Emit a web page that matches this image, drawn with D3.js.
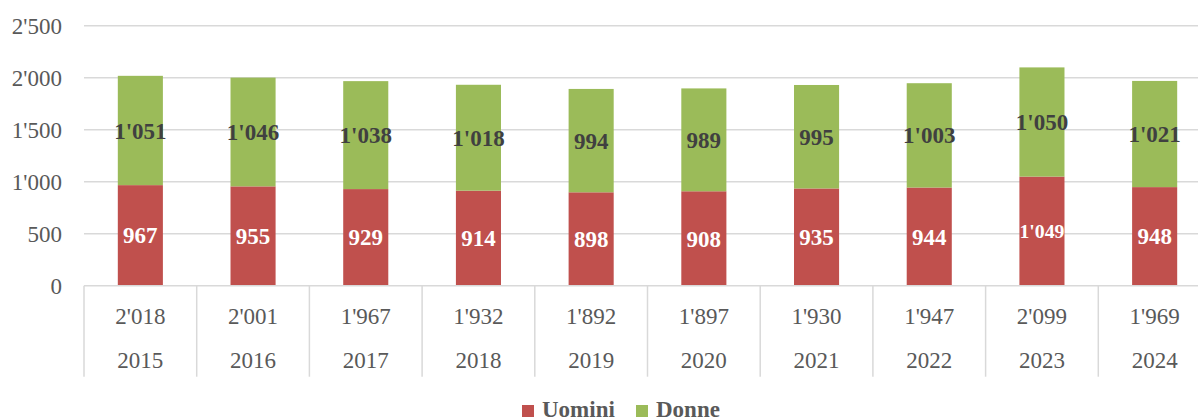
<!DOCTYPE html>
<html>
<head>
<meta charset="utf-8">
<script src="https://cdn.jsdelivr.net/npm/d3@7"></script>
<style>
  body { margin: 0; background: #fff; }
  svg { display: block; font-family: "Liberation Serif", "DejaVu Serif", serif; }
</style>
</head>
<body>
<svg id="chart" width="1198" height="419"></svg>
<script>
// data
const years = ['2015', '2016', '2017', '2018', '2019', '2020', '2021', '2022', '2023', '2024'];
const uomini = [967, 955, 929, 914, 898, 908, 935, 944, 1049, 948];
const donne = [1051, 1046, 1038, 1018, 994, 989, 995, 1003, 1050, 1021];
const yTicks = [0, 500, 1000, 1500, 2000, 2500];

const seriesNames = ['Uomini', 'Donne'];
const colors = ['#C0504D', '#9BBB59'];
const labelColors = ['#ffffff', '#404040'];

const fmt = v => d3.format(',')(v).replace(/,/g, "'");

const svg = d3.select('#chart');
const margin = { left: 84, top: 25.7, bottom: 133.3 };
const plotRight = 1211;
const height = 419 - margin.top - margin.bottom;
const fontSize = 23;

const rows = years.map((y, i) => ({ year: y, Uomini: uomini[i], Donne: donne[i], total: uomini[i] + donne[i] }));

const x = d3.scaleBand().domain(years).range([margin.left, plotRight]).paddingInner(0).paddingOuter(0);
const barW = x.bandwidth() * 0.4;
const y = d3.scaleLinear().domain([0, 2500]).range([margin.top + height, margin.top]);

// grid lines
svg.append('g')
    .selectAll('line')
    .data(yTicks.filter(d => d > 0))
    .enter()
    .append('line')
    .attr('x1', margin.left)
    .attr('x2', plotRight)
    .attr('y1', d => y(d))
    .attr('y2', d => y(d))
    .attr('stroke', '#D9D9D9')
    .attr('stroke-width', 1.5);

// y tick labels
svg.append('g')
    .selectAll('text')
    .data(yTicks)
    .enter()
    .append('text')
    .attr('x', 62)
    .attr('y', d => y(d))
    .attr('dy', '0.35em')
    .attr('text-anchor', 'end')
    .attr('font-size', fontSize + 'px')
    .attr('fill', '#595959')
    .text(d => fmt(d));

// stacked bars
const stacked = d3.stack().keys(seriesNames)(rows);

const layers = svg.append('g')
    .selectAll('g')
    .data(stacked)
    .enter()
    .append('g')
    .attr('fill', (d, i) => colors[i]);

layers.selectAll('rect')
    .data(d => d)
    .enter()
    .append('rect')
    .attr('x', d => x(d.data.year) + (x.bandwidth() - barW) / 2)
    .attr('width', barW)
    .attr('y', d => y(d[1]))
    .attr('height', d => y(d[0]) - y(d[1]));

// segment labels
stacked.forEach((layer, li) => {
    svg.append('g')
        .selectAll('text')
        .data(layer)
        .enter()
        .append('text')
        .attr('x', d => x(d.data.year) + x.bandwidth() / 2)
        .attr('y', d => y((d[0] + d[1]) / 2))
        .attr('dy', '0.35em')
        .attr('text-anchor', 'middle')
        .attr('font-size', fontSize + 'px')
        .attr('font-weight', 'bold')
        .attr('fill', labelColors[li])
        .text(d => fmt(d[1] - d[0]))
        .each(function () {
            // white labels are squeezed to fit inside the red bar
            if (li !== 0) return;
            const w = this.getComputedTextLength();
            if (w > barW) {
                d3.select(this).attr('font-size', (fontSize * barW / w) + 'px');
            }
        });
});

// category axis line and separators
const axisY = y(0);
svg.append('line')
    .attr('x1', margin.left)
    .attr('x2', plotRight)
    .attr('y1', axisY)
    .attr('y2', axisY)
    .attr('stroke', '#D9D9D9')
    .attr('stroke-width', 1.5);

svg.append('g')
    .selectAll('line')
    .data(years.concat(['end']))
    .enter()
    .append('line')
    .attr('x1', d => d === 'end' ? plotRight : x(d))
    .attr('x2', d => d === 'end' ? plotRight : x(d))
    .attr('y1', axisY)
    .attr('y2', axisY + 91)
    .attr('stroke', '#D9D9D9')
    .attr('stroke-width', 1.5);

// totals row and year row
svg.append('g')
    .selectAll('text')
    .data(rows)
    .enter()
    .append('text')
    .attr('x', d => x(d.year) + x.bandwidth() / 2)
    .attr('y', axisY + 30)
    .attr('dy', '0.35em')
    .attr('text-anchor', 'middle')
    .attr('font-size', fontSize + 'px')
    .attr('fill', '#595959')
    .text(d => fmt(d.total));

svg.append('g')
    .selectAll('text')
    .data(rows)
    .enter()
    .append('text')
    .attr('x', d => x(d.year) + x.bandwidth() / 2)
    .attr('y', axisY + 74)
    .attr('dy', '0.35em')
    .attr('text-anchor', 'middle')
    .attr('font-size', fontSize + 'px')
    .attr('fill', '#595959')
    .text(d => d.year);

// legend
const legend = svg.append('g');
const legendX = [522, 636];
seriesNames.forEach((name, i) => {
    legend.append('rect')
        .attr('x', legendX[i])
        .attr('y', 405)
        .attr('width', 12)
        .attr('height', 12)
        .attr('fill', colors[i]);
    legend.append('text')
        .attr('x', legendX[i] + 20)
        .attr('y', 417)
        .attr('font-size', fontSize + 'px')
        .attr('font-weight', 'bold')
        .attr('fill', '#595959')
        .text(name);
});
</script>
</body>
</html>
